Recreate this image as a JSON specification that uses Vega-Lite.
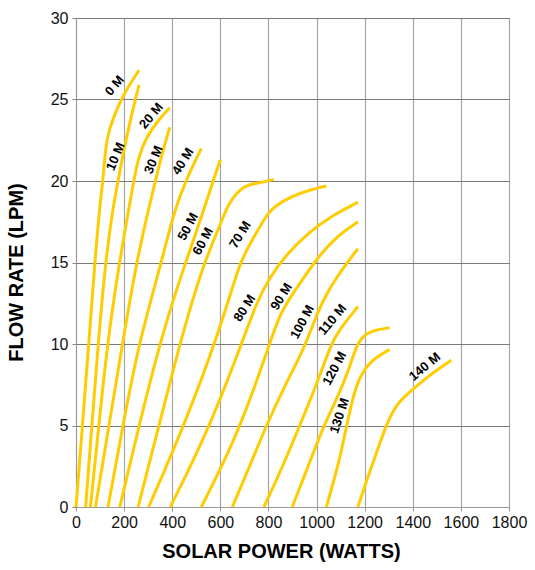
{
  "$schema": "https://vega.github.io/schema/vega-lite/v6.json",
  "width": 433,
  "height": 489,
  "autosize": {"type": "none"},
  "padding": {"left": 76, "top": 18, "right": 26, "bottom": 63},
  "background": "white",
  "config": {"view": {"stroke": "#a6a6a6", "strokeWidth": 1}, "font": "Liberation Sans"},
  "datasets": {
    "curves": [
      {"h": "0 M", "w": 0, "f": 0}, {"h": "0 M", "w": 27, "f": 5}, {"h": "0 M", "w": 53, "f": 10}, {"h": "0 M", "w": 78, "f": 15}, {"h": "0 M", "w": 101, "f": 18.8}, {"h": "0 M", "w": 112, "f": 20}, {"h": "0 M", "w": 123, "f": 22.1}, {"h": "0 M", "w": 137, "f": 23.1}, {"h": "0 M", "w": 161, "f": 24.1}, {"h": "0 M", "w": 200, "f": 25.4}, {"h": "0 M", "w": 262, "f": 26.8},
      {"h": "10 M", "w": 40, "f": 0}, {"h": "10 M", "w": 66, "f": 5}, {"h": "10 M", "w": 92, "f": 10}, {"h": "10 M", "w": 122, "f": 15}, {"h": "10 M", "w": 155, "f": 18.5}, {"h": "10 M", "w": 175, "f": 20}, {"h": "10 M", "w": 200, "f": 22}, {"h": "10 M", "w": 230, "f": 24}, {"h": "10 M", "w": 262, "f": 25.9},
      {"h": "20 M", "w": 60, "f": 0}, {"h": "20 M", "w": 95, "f": 5}, {"h": "20 M", "w": 130, "f": 10}, {"h": "20 M", "w": 180, "f": 15}, {"h": "20 M", "w": 222, "f": 18.5}, {"h": "20 M", "w": 240, "f": 20}, {"h": "20 M", "w": 260, "f": 21.5}, {"h": "20 M", "w": 293, "f": 22.7}, {"h": "20 M", "w": 340, "f": 23.7}, {"h": "20 M", "w": 390, "f": 24.5},
      {"h": "30 M", "w": 81, "f": 0}, {"h": "30 M", "w": 137, "f": 5}, {"h": "30 M", "w": 193, "f": 10}, {"h": "30 M", "w": 251, "f": 15}, {"h": "30 M", "w": 305, "f": 18.5}, {"h": "30 M", "w": 330, "f": 20}, {"h": "30 M", "w": 358, "f": 21.7}, {"h": "30 M", "w": 390, "f": 23.3},
      {"h": "40 M", "w": 133, "f": 0}, {"h": "40 M", "w": 195, "f": 5}, {"h": "40 M", "w": 260, "f": 10}, {"h": "40 M", "w": 355, "f": 15}, {"h": "40 M", "w": 405, "f": 18}, {"h": "40 M", "w": 455, "f": 20}, {"h": "40 M", "w": 521, "f": 22},
      {"h": "50 M", "w": 182, "f": 0}, {"h": "50 M", "w": 270, "f": 5.5}, {"h": "50 M", "w": 362, "f": 10.8}, {"h": "50 M", "w": 455, "f": 15}, {"h": "50 M", "w": 515, "f": 17.5}, {"h": "50 M", "w": 570, "f": 20}, {"h": "50 M", "w": 600, "f": 21.3},
      {"h": "60 M", "w": 258, "f": 0}, {"h": "60 M", "w": 345, "f": 5}, {"h": "60 M", "w": 445, "f": 10.8}, {"h": "60 M", "w": 532, "f": 15}, {"h": "60 M", "w": 597, "f": 17.2}, {"h": "60 M", "w": 632, "f": 18.6}, {"h": "60 M", "w": 681, "f": 19.5}, {"h": "60 M", "w": 722, "f": 19.8}, {"h": "60 M", "w": 770, "f": 19.9}, {"h": "60 M", "w": 822, "f": 20.1},
      {"h": "70 M", "w": 302, "f": 0}, {"h": "70 M", "w": 450, "f": 5}, {"h": "70 M", "w": 597, "f": 10.8}, {"h": "70 M", "w": 680, "f": 15}, {"h": "70 M", "w": 722, "f": 16.1}, {"h": "70 M", "w": 791, "f": 17.9}, {"h": "70 M", "w": 826, "f": 18.5}, {"h": "70 M", "w": 930, "f": 19.3}, {"h": "70 M", "w": 1041, "f": 19.7},
      {"h": "80 M", "w": 392, "f": 0}, {"h": "80 M", "w": 560, "f": 5}, {"h": "80 M", "w": 708, "f": 10.8}, {"h": "80 M", "w": 750, "f": 12.5}, {"h": "80 M", "w": 805, "f": 14.1}, {"h": "80 M", "w": 875, "f": 15.5}, {"h": "80 M", "w": 971, "f": 16.9}, {"h": "80 M", "w": 1068, "f": 17.9}, {"h": "80 M", "w": 1172, "f": 18.7},
      {"h": "90 M", "w": 521, "f": 0}, {"h": "90 M", "w": 640, "f": 3.5}, {"h": "90 M", "w": 722, "f": 6.5}, {"h": "90 M", "w": 805, "f": 10}, {"h": "90 M", "w": 850, "f": 12}, {"h": "90 M", "w": 930, "f": 13.7}, {"h": "90 M", "w": 999, "f": 15.2}, {"h": "90 M", "w": 1082, "f": 16.6}, {"h": "90 M", "w": 1172, "f": 17.5},
      {"h": "100 M", "w": 650, "f": 0}, {"h": "100 M", "w": 722, "f": 2.5}, {"h": "100 M", "w": 791, "f": 5}, {"h": "100 M", "w": 870, "f": 7.5}, {"h": "100 M", "w": 944, "f": 9.6}, {"h": "100 M", "w": 985, "f": 11.2}, {"h": "100 M", "w": 1027, "f": 12.7}, {"h": "100 M", "w": 1082, "f": 14.1}, {"h": "100 M", "w": 1172, "f": 15.85},
      {"h": "110 M", "w": 781, "f": 0}, {"h": "110 M", "w": 860, "f": 2.5}, {"h": "110 M", "w": 930, "f": 5}, {"h": "110 M", "w": 1000, "f": 7.5}, {"h": "110 M", "w": 1060, "f": 10}, {"h": "110 M", "w": 1096, "f": 10.9}, {"h": "110 M", "w": 1172, "f": 12.3},
      {"h": "120 M", "w": 899, "f": 0}, {"h": "120 M", "w": 965, "f": 2.5}, {"h": "120 M", "w": 1030, "f": 5}, {"h": "120 M", "w": 1096, "f": 7}, {"h": "120 M", "w": 1138, "f": 8.6}, {"h": "120 M", "w": 1166, "f": 9.9}, {"h": "120 M", "w": 1193, "f": 10.5}, {"h": "120 M", "w": 1235, "f": 10.84}, {"h": "120 M", "w": 1304, "f": 11.0},
      {"h": "130 M", "w": 1041, "f": 0}, {"h": "130 M", "w": 1060, "f": 1}, {"h": "130 M", "w": 1096, "f": 2.9}, {"h": "130 M", "w": 1125, "f": 5}, {"h": "130 M", "w": 1155, "f": 7}, {"h": "130 M", "w": 1186, "f": 8.2}, {"h": "130 M", "w": 1235, "f": 9.1}, {"h": "130 M", "w": 1304, "f": 9.66},
      {"h": "140 M", "w": 1172, "f": 0}, {"h": "140 M", "w": 1207, "f": 1.6}, {"h": "140 M", "w": 1249, "f": 3.3}, {"h": "140 M", "w": 1290, "f": 5.1}, {"h": "140 M", "w": 1339, "f": 6.45}, {"h": "140 M", "w": 1387, "f": 7.05}, {"h": "140 M", "w": 1470, "f": 8.1}, {"h": "140 M", "w": 1560, "f": 9.0}
    ],
    "labels": [
      {"t": "0 M", "w": 161, "f": 25.85}, {"t": "10 M", "w": 165, "f": 21.5}, {"t": "20 M", "w": 313, "f": 24.0}, {"t": "30 M", "w": 323, "f": 21.3},
      {"t": "40 M", "w": 445, "f": 21.2}, {"t": "50 M", "w": 466, "f": 17.2}, {"t": "60 M", "w": 528, "f": 16.3}, {"t": "70 M", "w": 683, "f": 16.7},
      {"t": "80 M", "w": 701, "f": 12.2}, {"t": "90 M", "w": 854, "f": 12.9}, {"t": "100 M", "w": 941, "f": 11.35}, {"t": "110 M", "w": 1066, "f": 11.5},
      {"t": "120 M", "w": 1075, "f": 8.5}, {"t": "130 M", "w": 1096, "f": 5.6}, {"t": "140 M", "w": 1450, "f": 8.6}
    ]
  },
  "encoding": {
    "x": {"field": "w", "type": "quantitative", "scale": {"domain": [0, 1800], "nice": false},
      "axis": {"values": [0, 200, 400, 600, 800, 1000, 1200, 1400, 1600, 1800], "format": "d", "title": "SOLAR POWER (WATTS)", "titleFont": "Liberation Sans", "titleFontWeight": "bold", "titleFontSize": 20, "titleColor": "#000", "titleX": 205, "titleY": 44, "titleBaseline": "middle", "titleAlign": "center", "labelFont": "Liberation Sans", "labelFontSize": 16, "labelColor": "#111", "labelPadding": 3, "tickSize": 4, "tickColor": "#999", "domainColor": "#999", "grid": true, "gridColor": "#a6a6a6", "gridWidth": 1.2, "labelFlush": false, "labelOverlap": false}},
    "y": {"field": "f", "type": "quantitative", "scale": {"domain": [0, 30], "nice": false},
      "axis": {"values": [0, 5, 10, 15, 20, 25, 30], "format": "d", "title": "FLOW RATE (LPM)", "titleFont": "Liberation Sans", "titleFontWeight": "bold", "titleFontSize": 20, "titleColor": "#000", "titleX": -60, "titleY": 254, "titleAngle": -90, "titleBaseline": "middle", "titleAlign": "center", "labelFont": "Liberation Sans", "labelFontSize": 16, "labelColor": "#111", "labelPadding": 4, "tickSize": 4, "tickColor": "#888", "domainColor": "#999", "grid": true, "gridColor": "#7a7a7a", "gridWidth": 1.2, "labelFlush": false, "labelOverlap": false}}
  },
  "layer": [
    {"data": {"name": "curves"}, "mark": {"type": "line", "color": "#ffcc00", "strokeWidth": 3, "interpolate": "basis"},
      "encoding": {"detail": {"field": "h"}, "order": {"field": "f", "type": "quantitative"}}},
    {"data": {"name": "labels"}, "transform": [{"filter": {"field": "t", "oneOf": ["0 M", "20 M", "110 M"]}}],
      "mark": {"type": "text", "angle": -50, "font": "Liberation Sans", "fontWeight": "bold", "fontSize": 13, "color": "#000", "align": "center", "baseline": "middle"},
      "encoding": {"text": {"field": "t"}}},
    {"data": {"name": "labels"}, "transform": [{"filter": {"field": "t", "oneOf": ["40 M", "70 M", "80 M", "90 M"]}}],
      "mark": {"type": "text", "angle": -58, "font": "Liberation Sans", "fontWeight": "bold", "fontSize": 13, "color": "#000", "align": "center", "baseline": "middle"},
      "encoding": {"text": {"field": "t"}}},
    {"data": {"name": "labels"}, "transform": [{"filter": {"field": "t", "oneOf": ["50 M", "60 M", "100 M", "120 M"]}}],
      "mark": {"type": "text", "angle": -62, "font": "Liberation Sans", "fontWeight": "bold", "fontSize": 13, "color": "#000", "align": "center", "baseline": "middle"},
      "encoding": {"text": {"field": "t"}}},
    {"data": {"name": "labels"}, "transform": [{"filter": {"field": "t", "oneOf": ["10 M", "30 M"]}}],
      "mark": {"type": "text", "angle": -67, "font": "Liberation Sans", "fontWeight": "bold", "fontSize": 13, "color": "#000", "align": "center", "baseline": "middle"},
      "encoding": {"text": {"field": "t"}}},
    {"data": {"name": "labels"}, "transform": [{"filter": {"field": "t", "oneOf": ["130 M"]}}],
      "mark": {"type": "text", "angle": -72, "font": "Liberation Sans", "fontWeight": "bold", "fontSize": 13, "color": "#000", "align": "center", "baseline": "middle"},
      "encoding": {"text": {"field": "t"}}},
    {"data": {"name": "labels"}, "transform": [{"filter": {"field": "t", "oneOf": ["140 M"]}}],
      "mark": {"type": "text", "angle": -40, "font": "Liberation Sans", "fontWeight": "bold", "fontSize": 13, "color": "#000", "align": "center", "baseline": "middle"},
      "encoding": {"text": {"field": "t"}}}
  ]
}
